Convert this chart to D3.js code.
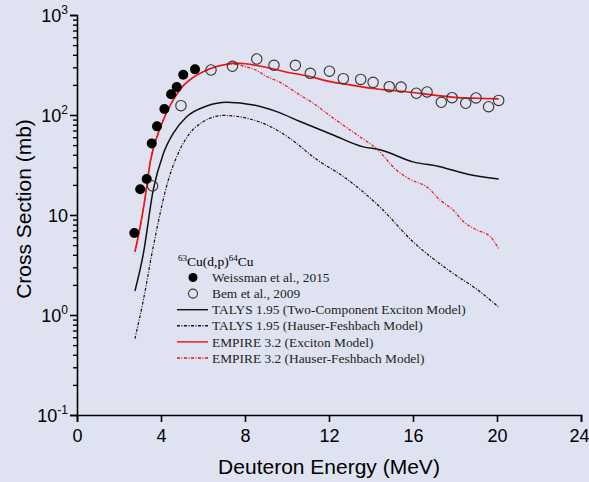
<!DOCTYPE html>
<html><head><meta charset="utf-8">
<script src="https://cdn.jsdelivr.net/npm/d3@7"></script>
<style>
html,body{margin:0;padding:0;background:#dfe2f0;}
svg{display:block;}
</style></head>
<body>
<svg id="c" width="589" height="482"></svg>
<script>
// ---- data ----
const weissmanE = [2.73,3.01,3.32,3.56,3.81,4.16,4.48,4.75,5.06,5.62];
const weissmanXS = [6.6,18.1,22.9,52,77,115,161,190,253,286];

const bemE = [3.6,4.95,6.38,7.40,8.56,9.38,10.40,11.11,12.02,12.68,13.51,14.10,14.87,15.43,16.16,16.67,17.35,17.86,18.51,19.0,19.60,20.08];
const bemXS = [19.5,124,282,307,363,314,314,261,274,231,227,212,192,190,165,170,134,149,131,148,121,140];

const talysExcE = [2.76,3.16,3.63,4.11,4.59,5.22,6.18,7.13,8.4,9.51,10.62,12.2,13.63,14.43,16.0,17.29,18.56,20.08];
const talysExcXS = [1.74,4.1,17.8,41,66,96,123,134,126,108,86,63,48,45,34,30.4,25.7,22.9];

const talysHfE = [2.76,3.16,3.63,4.35,4.9,5.38,6.02,6.97,8.08,9.35,10.46,11.25,12.84,14.43,16.0,17.6,19.19,20.06];
const talysHfXS = [0.58,1.41,4.8,22.4,45,66,86,99,93,74,52,38,23,12,5.4,2.9,1.71,1.21];

const empExcE = [2.76,3.0,3.2,3.5,4.0,4.5,5.0,5.5,6.0,6.5,7.0,7.5,8.0,9.0,10,11,12,13,14,15,16,17,18,19,20.08];
const empExcXS = [4.3,7.5,13,35,78,132,190,235,270,298,318,330,326,300,268,245,217,200,185,176,168,158,150,147,145];

const empHfE = [2.76,3.0,3.2,3.5,4.0,4.5,5.0,5.5,6.0,6.5,7.0,7.5,8.0,8.5,9.0,9.67,10.62,11.25,12.0,12.68,13.5,14.27,15.22,16.0,16.65,17.29,17.92,18.4,19.03,19.67,20.08];
const empHfXS = [4.3,7.5,13,35,78,132,190,235,270,298,316,322,305,282,245,212,158,131,100,79,60,46,28,22,19.2,14.1,11.2,8.6,7.1,6.1,4.6];

const xTicks = [0,4,8,12,16,20,24];
const yTickExp = [-1,0,1,2,3];

const legendTitle = [["63","sup"],["Cu(d,p)",""],["64","sup"],["Cu",""]];
const legendItems = [
  {label:"Weissman et al., 2015", type:"filled"},
  {label:"Bem et al., 2009", type:"open"},
  {label:"TALYS 1.95 (Two-Component Exciton Model)", type:"line", color:"#111", dash:null},
  {label:"TALYS 1.95 (Hauser-Feshbach Model)", type:"line", color:"#111", dash:"3,1.5,1,1.5"},
  {label:"EMPIRE 3.2 (Exciton Model)", type:"line", color:"#ee1111", dash:null},
  {label:"EMPIRE 3.2 (Hauser-Feshbach Model)", type:"line", color:"#ee1111", dash:"3,1.5,1,1.5"}
];

// ---- chart ----
const svg = d3.select("#c");
const x = d3.scaleLinear().domain([0,24]).range([77,581]);
const y = d3.scaleLog().domain([0.1,1000]).range([415,15]);

const sans = "Arial, 'Liberation Sans', sans-serif";
const serif = "'Times New Roman', 'Liberation Serif', serif";

// curves
const line = d3.line().x(d=>x(d[0])).y(d=>y(d[1])).curve(d3.curveMonotoneX);
function drawCurve(E, XS, color, dash, w){
  svg.append("path").datum(E.map((e,i)=>[e,XS[i]]))
    .attr("d", line).attr("fill","none").attr("stroke",color)
    .attr("stroke-width",w).attr("stroke-dasharray",dash);
}
drawCurve(talysHfE, talysHfXS, "#111", "3,1.5,1,1.5", 1.2);
drawCurve(talysExcE, talysExcXS, "#111", null, 1.5);
drawCurve(empHfE, empHfXS, "#ee1111", "3,1.5,1,1.5", 1.2);
drawCurve(empExcE, empExcXS, "#ee1111", null, 1.6);

// points
svg.append("g").selectAll("circle").data(weissmanE.map((e,i)=>[e,weissmanXS[i]]))
  .join("circle").attr("cx",d=>x(d[0])).attr("cy",d=>y(d[1])).attr("r",5).attr("fill","#000");
svg.append("g").selectAll("circle").data(bemE.map((e,i)=>[e,bemXS[i]]))
  .join("circle").attr("cx",d=>x(d[0])).attr("cy",d=>y(d[1])).attr("r",5.2)
  .attr("fill","none").attr("stroke","#333").attr("stroke-width",1.1);

// x axis
const xAxis = d3.axisBottom(x).tickValues(xTicks).tickSize(7).tickFormat(d3.format("d"));
const gx = svg.append("g").attr("transform","translate(0,415)").call(xAxis);
gx.select(".domain").attr("stroke","#000").attr("stroke-width",1.6);
gx.selectAll(".tick line").attr("stroke","#000").attr("stroke-width",1.6);
gx.selectAll(".tick text").attr("font-family",sans).attr("font-size",18).attr("fill","#000").attr("dy","0.95em")
  .filter(d=>d===24).attr("text-anchor","end").attr("x",8);

// y axis
const minorVals = [];
for (let e=-1;e<3;e++) for (let k=2;k<=9;k++) minorVals.push(k*Math.pow(10,e));
const yAxisMinor = d3.axisLeft(y).tickValues(minorVals).tickSize(4).tickFormat("");
const gym = svg.append("g").attr("transform","translate(77,0)").call(yAxisMinor);
gym.select(".domain").remove();
gym.selectAll(".tick line").attr("stroke","#000").attr("stroke-width",1.4);

const yAxis = d3.axisLeft(y).tickValues(yTickExp.map(e=>Math.pow(10,e))).tickSize(7).tickFormat("");
const gy = svg.append("g").attr("transform","translate(77,0)").call(yAxis);
gy.select(".domain").attr("stroke","#000").attr("stroke-width",1.6);
gy.selectAll(".tick line").attr("stroke","#000").attr("stroke-width",1.6);

yTickExp.forEach(e=>{
  const v = Math.pow(10,e);
  const t = svg.append("text").attr("x",68).attr("y",y(v)+6.5)
    .attr("text-anchor","end").attr("font-family",sans).attr("font-size",18).attr("fill","#000");
  if (e===1){ t.text("10"); }
  else {
    t.append("tspan").text("10");
    t.append("tspan").attr("font-size",12).attr("dy",-8).text(String(e));
  }
});

// axis titles
svg.append("text").attr("x",329).attr("y",474).attr("text-anchor","middle")
  .attr("font-family",sans).attr("font-size",21).attr("fill","#000").text("Deuteron Energy (MeV)");
svg.append("text").attr("transform","translate(31,209) rotate(-90)").attr("text-anchor","middle")
  .attr("font-family",sans).attr("font-size",21).attr("fill","#000").text("Cross Section (mb)");

// legend
const lt = svg.append("text").attr("x",178).attr("y",266).attr("font-family",serif).attr("font-size",13.5).attr("fill","#000");
legendTitle.forEach(([s,k])=>{
  if (k==="sup") lt.append("tspan").attr("font-size",9).attr("dy",-5).text(s);
  else lt.append("tspan").attr("dy",5).text(s);
});
lt.selectAll("tspan").filter((d,i)=>i===0).attr("dy",-5);

const lg = svg.append("g");
legendItems.forEach((it,i)=>{
  const cy = 277.5 + i*16.1;
  if (it.type==="filled") lg.append("circle").attr("cx",193).attr("cy",cy).attr("r",4.5).attr("fill","#000");
  else if (it.type==="open") lg.append("circle").attr("cx",193).attr("cy",cy).attr("r",4.5).attr("fill","none").attr("stroke","#333").attr("stroke-width",1.1);
  else lg.append("line").attr("x1",177).attr("x2",208).attr("y1",cy).attr("y2",cy)
    .attr("stroke",it.color).attr("stroke-width",1.4).attr("stroke-dasharray",it.dash);
  lg.append("text").attr("x",212).attr("y",cy+4.6).attr("font-family",serif).attr("font-size",13.4)
    .attr("fill","#222").text(it.label);
});
</script>
</body></html>
